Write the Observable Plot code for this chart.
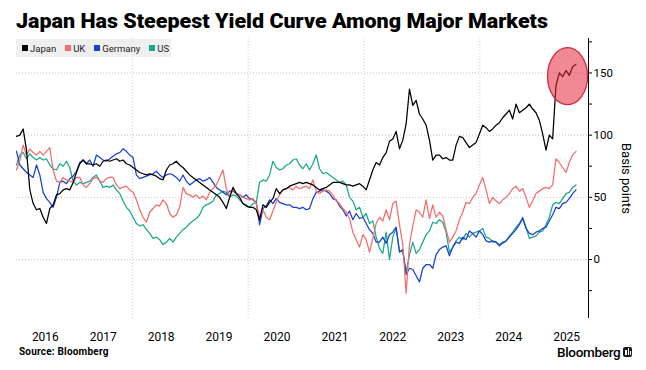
<!DOCTYPE html>
<html>
<head>
<meta charset="utf-8">
<script src="https://cdn.jsdelivr.net/npm/d3@7"></script>
<script src="https://cdn.jsdelivr.net/npm/@observablehq/plot@0.6"></script>
<style>
  html, body { margin: 0; padding: 0; background: #fff; }
  #wrap { position: relative; width: 646px; height: 370px; overflow: hidden; font-family: Roboto, "Open Sans", sans-serif; color: #000; }
  #title { position: absolute; left: 16px; top: 8px; font-size: 21px; font-weight: 900; white-space: nowrap; transform-origin: 0 0; line-height: 26px; display: inline-block; }
  #chart { position: absolute; left: 0; top: 36px; }
  #legend { position: absolute; left: 16px; top: 39px; height: 18px; width: 155px; box-sizing: border-box; padding-left: 6px; background: rgba(236,236,236,0.85); display: flex; align-items: center; font-size: 9.5px; color: #222; z-index: 2; }
  #legend .item { display: flex; align-items: center; margin-right: 9px; }
  #legend .sw { width: 6px; height: 6px; margin-right: 2px; }
  #source { position: absolute; left: 19px; top: 345px; font-size: 10px; font-weight: 700; line-height: 14px; letter-spacing: 0.2px; }
  #logo { position: absolute; left: 557px; top: 344px; font-size: 13.5px; font-weight: 500; line-height: 16px; letter-spacing: -0.3px; }
  #icon { position: absolute; left: 623px; top: 347px; width: 9px; height: 10px; background: #1a1a1a; border-radius: 2px; }
  #icon span { position: absolute; bottom: 2px; width: 1.5px; background: #fff; }
</style>
</head>
<body>
<div id="wrap">
  <div id="title">Japan Has Steepest Yield Curve Among Major Markets</div>
  <div id="chart"></div>
  <div id="legend"></div>
  <div id="source">Source: Bloomberg</div>
  <div id="logo">Bloomberg</div>
  <div id="icon"><span style="left:2px;height:5px"></span><span style="left:4.5px;height:7px"></span><span style="left:7px;height:4px;width:1px"></span></div>
</div>
<script>
// ---- data (basis points, one value every 21 days from 2016-01-01) ----
const countries = ["Japan", "UK", "Germany", "US"];
const colors = ["#000000", "#f26d6d", "#1b3fd3", "#17a98a"];
const startDate = "2016-01-01";
const stepDays = 21;

const japan = [99,100,105,88,56,45,40,41,34,29,
  41,44,52,53,56,57,56,62,70,77,
  80,77,77,76,77,75,79,80,79,80,
  81,79,80,77,76,74,72,70,69,68,
  69,68,67,65,64,72,76,77,79,76,
  74,71,68,66,64,62,60,58,56,54,
  52,50,46,41,50,58,53,50,45,43,
  42,42,40,32,44,42,46,49,57,53,
  56,57,59,60,61,62,61,62,61,60,
  58,56,57,58,60,62,62,62,61,60,
  60,59,60,61,59,56,64,72,78,76,
  82,86,95,97,103,89,96,109,137,124,
  128,117,113,108,96,80,84,84,81,82,
  80,80,92,99,98,94,90,92,94,101,
  108,106,103,105,108,110,114,117,120,113,
  125,118,120,122,125,121,118,112,101,88,
  100,97,140,150,147,152,148,155,157];

const uk = [72,80,92,84,89,86,84,87,84,87,
  90,72,63,62,66,64,63,62,66,66,
  60,58,61,65,66,63,62,65,66,66,
  60,57,58,59,56,54,48,40,34,30,
  38,41,44,43,48,45,37,34,36,42,
  58,53,52,50,52,49,51,48,54,57,
  60,66,72,57,51,56,53,52,50,49,
  48,49,45,34,40,34,32,39,46,52,
  56,57,58,56,59,57,58,59,57,64,
  55,53,55,56,55,52,47,45,41,38,
  33,22,16,10,20,16,6,17,29,34,
  31,40,32,45,47,28,12,-27,12,27,
  40,38,34,48,33,44,34,38,35,24,
  14,18,23,32,38,46,45,50,53,60,
  66,56,45,50,47,45,48,50,53,57,
  59,55,57,50,42,47,53,55,57,58,
  57,60,81,78,74,70,78,84,87];

const germany = [87,76,73,70,68,66,76,68,54,49,
  46,42,50,62,63,61,65,67,71,78,
  80,77,80,75,84,82,80,79,81,83,
  85,86,89,87,84,82,68,65,66,67,
  68,69,71,68,66,68,69,68,66,63,
  68,63,60,62,64,65,63,64,66,62,
  58,56,54,52,55,55,53,52,50,52,
  49,48,46,28,41,43,48,45,49,46,
  45,44,44,42,42,41,42,40,41,49,
  54,55,56,55,53,49,48,43,40,35,
  39,32,37,33,34,29,24,21,14,14,
  18,13,20,22,26,6,8,-12,-7,-8,
  -13,-18,-7,-4,-4,-7,4,8,10,11,
  3,10,14,13,18,16,23,21,18,23,
  20,15,14,15,14,11,13,15,18,21,
  24,28,33,25,21,20,22,23,25,26,
  31,36,42,41,45,46,49,53,56];

const us = [76,84,86,81,85,82,80,82,80,81,
  76,73,72,77,75,79,74,63,60,62,
  61,62,63,66,68,63,58,59,58,60,
  56,53,47,42,39,34,29,27,28,24,
  21,17,18,16,12,14,17,14,18,21,
  24,26,29,31,33,36,42,44,45,47,
  52,53,55,54,50,52,51,48,45,44,
  42,45,46,62,64,63,68,79,74,72,
  73,76,77,80,81,76,73,77,72,77,
  84,73,69,70,68,66,64,62,63,60,
  50,47,40,42,34,37,29,31,18,9,
  5,22,0,18,25,7,6,-10,4,14,
  5,8,14,20,23,30,29,32,30,22,
  6,10,15,18,16,21,18,21,22,23,
  25,18,17,14,14,12,14,15,19,22,
  26,29,34,26,17,18,19,22,23,28,
  34,44,46,45,49,53,54,58,60];

const yTicks = [-25, 0, 25, 50, 75, 100, 125, 150, 175];
const gridValues = [0, 50, 100, 150];
const yearLabels = [2016, 2017, 2018, 2019, 2020, 2021, 2022, 2023, 2024, 2025];
const gridYears = [2018, 2020, 2022, 2024];
const axisTitle = "Basis points";
const annotation = {date: "2025-07-10", value: 147};

// ---- build table ----
const seriesByCountry = {Japan: japan, UK: uk, Germany: germany, US: us};
const start = new Date(startDate + "T00:00:00Z");
const drawOrder = ["US", "Germany", "UK", "Japan"];
const rows = [];
for (const c of drawOrder) {
  seriesByCountry[c].forEach((v, i) => rows.push({country: c, date: d3.utcDay.offset(start, i * stepDays), value: v}));
}
const yearStart = y => new Date(Date.UTC(y, 0, 1));
const midYear = y => new Date(Date.UTC(y, 6, 1));
const xDomain = [yearStart(2016), new Date(Date.UTC(2025, 10, 16))];

// ---- legend ----
const legend = document.getElementById("legend");
countries.forEach((c, i) => {
  const it = document.createElement("div");
  it.className = "item";
  it.innerHTML = `<div class="sw" style="background:${colors[i]}"></div><span>${c}</span>`;
  legend.appendChild(it);
});

// ---- title fit ----
const title = document.getElementById("title");
const tw = title.getBoundingClientRect().width;
title.style.transform = `scaleX(${532 / tw})`;

// ---- annotation ellipse (custom render mark) ----
function ellipseMark(index, scales) {
  const cx = scales.x(new Date(annotation.date + "T00:00:00Z"));
  const cy = scales.y(annotation.value);
  const g = d3.create("svg:g");
  g.append("ellipse")
    .attr("cx", cx).attr("cy", cy).attr("rx", 20).attr("ry", 28.5)
    .attr("fill", "#e6283c").attr("fill-opacity", 0.55)
    .attr("stroke", "#d0283f").attr("stroke-width", 1.3);
  return g.node();
}

const chart = Plot.plot({
  width: 646,
  height: 312,
  marginLeft: 16,
  marginRight: 58,
  marginTop: 2,
  marginBottom: 30,
  x: {type: "utc", domain: xDomain},
  y: {domain: [-47.4, 177.7]},
  color: {domain: countries, range: colors},
  style: {fontFamily: "Roboto, 'Open Sans', sans-serif", fontSize: "11.5px", color: "#000", background: "transparent", overflow: "visible"},
  marks: [
    Plot.ruleY(gridValues, {stroke: "#c4c4c4", strokeDasharray: "1,2", strokeWidth: 1}),
    Plot.ruleX(gridYears.map(yearStart), {stroke: "#cfcfcf", strokeDasharray: "1,2", strokeWidth: 1}),
    Plot.line(rows, {x: "date", y: "value", z: "country", stroke: "country", strokeWidth: 1.25, strokeLinejoin: "round"}),
    Plot.ruleX([xDomain[1]], {stroke: "#000", strokeWidth: 1}),
    Plot.axisY({anchor: "right", ticks: yTicks, tickSize: 3, tickPadding: 2, tickFormat: d => (d % 50 === 0 ? String(d) : ""), label: null, fontSize: 11.5}),
    Plot.axisX({ticks: yearLabels.map(midYear), tickFormat: d => String(d.getUTCFullYear()), tickSize: 0, tickPadding: 14, label: null, fontSize: 12}),
    Plot.text([axisTitle], {frameAnchor: "right", dx: 38, rotate: 90, fontSize: 13, textAnchor: "middle", lineAnchor: "middle"}),
    ellipseMark
  ]
});
document.getElementById("chart").appendChild(chart);
</script>
</body>
</html>
